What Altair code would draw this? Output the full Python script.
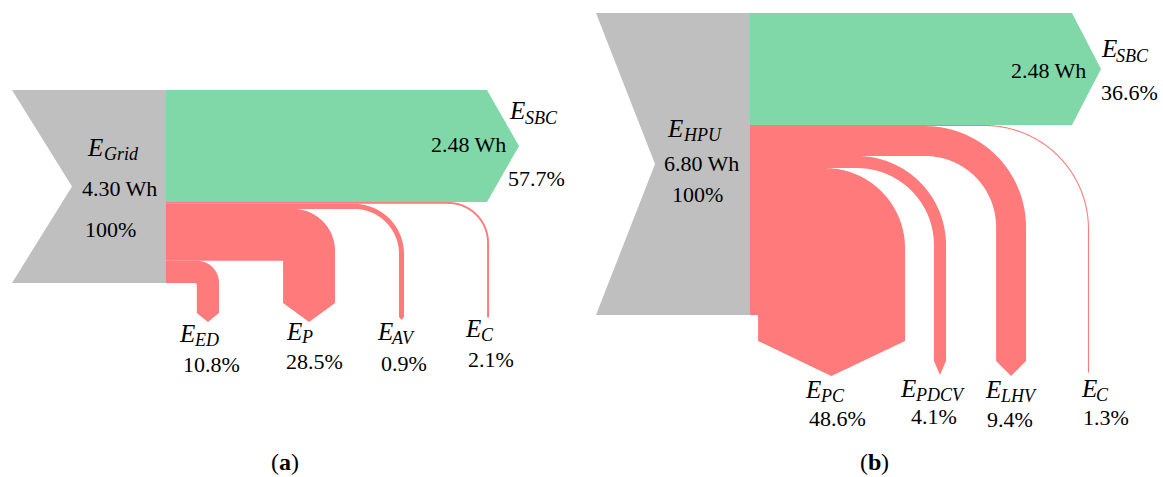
import altair as alt
import numpy as np
import pandas as pd

# ---------------- data ----------------
a_source = "Grid"
a_input_wh = 4.30
a_output_wh = 2.48
a_names = ["SBC", "C", "AV", "P", "ED"]          # top to bottom
a_share = [57.7, 2.1, 0.9, 28.5, 10.8]           # labelled shares, %
a_band = [58.0, 1.0, 2.6, 26.9, 11.5]            # band thickness as drawn, % of input

b_source = "HPU"
b_input_wh = 6.80
b_output_wh = 2.48
b_names = ["SBC", "C", "LHV", "PDCV", "PC"]
b_share = [36.6, 1.3, 9.4, 4.1, 48.6]
b_band = [37.1, 0.35, 9.9, 4.0, 48.65]

# ---------------- layout / style ----------------
GRAY, GREEN, RED = "#bfbfbf", "#80d8a8", "#ff7b7b"
W, H = 1163, 477
FONT = "Liberation Serif"

PANELS = {
    "a": dict(names=a_names, share=a_share, band=a_band, source=a_source,
              inp=a_input_wh, out=a_output_wh,
              top=90, height=193, x_left=12, x_notch=72, x_trunk=166,
              out_end=487, out_tip=519,
              bends={"C": (489, 39, 41, 317, 318), "AV": (404, 45, 50, 317, 320),
                     "P": (335, 0, 42, 303, 322), "ED": (219, 2, 22, 313, 322)},
              labels={"SRC": (88, 156, 104, 160, 85, 237),
                      "SBC": (510, 119, 525, 124, 508, 186),
                      "ED": (180, 342, 195, 346, 183, 372),
                      "P": (287, 340, 302, 343, 286, 369),
                      "AV": (378, 340, 392, 344, 381, 371),
                      "C": (466, 337, 481, 341, 468, 367)},
              wh_in=(82, 196), wh_out=(431, 152), cap=(271, 470)),
    "b": dict(names=b_names, share=b_share, band=b_band, source=b_source,
              inp=b_input_wh, out=b_output_wh,
              top=13, height=302, x_left=596, x_notch=655, x_trunk=750,
              out_end=1072, out_tip=1101,
              bends={"C": (1089, 103, 104, 372, 373), "LHV": (1026, 71, 101, 361, 376),
                     "PDCV": (946, 77, 89, 361, 375), "PC": (905, 0, 80, 341, 376)},
              labels={"SRC": (668, 137, 684, 141, 672, 202),
                      "SBC": (1102, 57, 1116, 62, 1101, 100),
                      "PC": (806, 398, 821, 402, 809, 426),
                      "PDCV": (901, 397, 916, 401, 911, 424),
                      "LHV": (986, 398, 1001, 402, 987, 427),
                      "C": (1082, 397, 1096, 401, 1083, 425)},
              wh_in=(664, 171), wh_out=(1011, 78), cap=(271 + 589, 470)),
}


def bend_points(x0, y0, w, xr, r_in, r_out, ys, yt, n=80):
    y1 = y0 + w
    xl = xr - w
    ocx, ocy = xr - r_out, y0 + r_out
    icx, icy = xl - r_in, y1 + r_in
    xm = (xl + xr) / 2

    def top(x):
        if x <= ocx:
            return y0
        dx = min(x - ocx, r_out)
        return ocy - np.sqrt(max(r_out ** 2 - dx ** 2, 0.0))

    def bot(x):
        if x <= icx:
            return y1
        if x < xl:
            dx = x - icx
            return icy - np.sqrt(max(r_in ** 2 - dx ** 2, 0.0))
        if x <= xm:
            return ys + (yt - ys) * (x - xl) / (xm - xl)
        return ys + (yt - ys) * (xr - x) / (xr - xm)

    t = np.linspace(0, np.pi / 2, n)
    xs = {float(x0), float(ocx), float(icx), float(xl), float(xm), float(xr)}
    xs.update((ocx + r_out * np.sin(t)).tolist())
    if r_in > 0:
        xs.update((icx + r_in * np.sin(t)).tolist())
    xs = sorted(x for x in xs if x0 <= x <= xr)
    pts = []
    for x in xs:
        if abs(x - xl) < 1e-9:
            pts.append((x - 1e-4, float(top(x)), float(icy)))
            pts.append((x + 1e-4, float(top(x)), float(ys)))
        else:
            pts.append((x, float(top(x)), float(bot(x))))
    return pts


xsc = alt.Scale(domain=[0, W], nice=False, zero=False)
ysc = alt.Scale(domain=[0, H], nice=False, zero=False, reverse=True)

layers = []
trows = []
for key, P in PANELS.items():
    top, hgt = P["top"], P["height"]
    x0 = P["x_trunk"]
    # input trunk (gray chevron) as a horizontal area
    gray = pd.DataFrame({
        "y": [float(top), top + hgt / 2.0, float(top + hgt)],
        "x": [float(P["x_left"]), float(P["x_notch"]), float(P["x_left"])],
        "x2": [float(x0)] * 3,
    })
    layers.append(alt.Chart(gray).mark_area(color=GRAY, opacity=1, orient="horizontal").encode(
        y=alt.Y("y:Q", scale=ysc, axis=None),
        x=alt.X("x:Q", scale=xsc, axis=None),
        x2="x2:Q"))
    y = top
    for name, band in zip(P["names"], P["band"]):
        w = band / 100.0 * hgt
        if name == "SBC":
            pts = [(float(x0), y, y + w), (float(P["out_end"]), y, y + w),
                   (float(P["out_tip"]), y + w / 2, y + w / 2)]
            fill = GREEN
        else:
            xr, r_in, r_out, ys, yt = P["bends"][name]
            pts = bend_points(x0, y, w, xr, r_in, r_out, ys, yt)
            fill = RED
        df = pd.DataFrame(pts, columns=["x", "y", "y2"]).astype(float)
        layers.append(alt.Chart(df).mark_area(color=fill, opacity=1).encode(
            x=alt.X("x:Q", scale=xsc, axis=None),
            y=alt.Y("y:Q", scale=ysc, axis=None),
            y2="y2:Q"))
        y += w

    L = P["labels"]
    ex, eb, sx, sb, px, pb = L["SRC"]
    trows += [dict(style="E", x=ex, y=eb, text="E"),
              dict(style="sub", x=sx, y=sb, text=P["source"]),
              dict(style="num", x=P["wh_in"][0], y=P["wh_in"][1], text=f"{P['inp']:.2f} Wh"),
              dict(style="num", x=px, y=pb, text="100%"),
              dict(style="num", x=P["wh_out"][0], y=P["wh_out"][1], text=f"{P['out']:.2f} Wh")]
    for name, share in zip(P["names"], P["share"]):
        ex, eb, sx, sb, px, pb = L[name]
        trows += [dict(style="E", x=ex, y=eb, text="E"),
                  dict(style="sub", x=sx, y=sb, text=name),
                  dict(style="num", x=px, y=pb, text=f"{share:.1f}%")]
    cx, cb = P["cap"]
    bw = 12 if key == "a" else 13
    trows += [dict(style="cap", x=cx, y=cb, text="("),
              dict(style="capb", x=cx + 8, y=cb, text=key),
              dict(style="cap", x=cx + 8 + bw, y=cb, text=")")]

dt = pd.DataFrame(trows)
dt["x"] = dt["x"].astype(float)
dt["y"] = dt["y"].astype(float)

styles = {"E": dict(fontSize=25, fontStyle="italic"),
          "sub": dict(fontSize=18, fontStyle="italic"),
          "num": dict(fontSize=22),
          "cap": dict(fontSize=24),
          "capb": dict(fontSize=24, fontWeight="bold")}
for st, kw in styles.items():
    layers.append(alt.Chart(dt[dt["style"] == st]).mark_text(
        align="left", baseline="alphabetic", font=FONT, color="#000000", **kw
    ).encode(x=alt.X("x:Q", scale=xsc, axis=None),
             y=alt.Y("y:Q", scale=ysc, axis=None),
             text="text:N"))

chart = alt.layer(*layers).properties(
    width=W, height=H, padding=0, autosize=alt.AutoSizeParams(type="none"),
    background="white"
).configure_view(stroke=None)

chart.save("out.html", embed_options={"renderer": "svg", "actions": False})
